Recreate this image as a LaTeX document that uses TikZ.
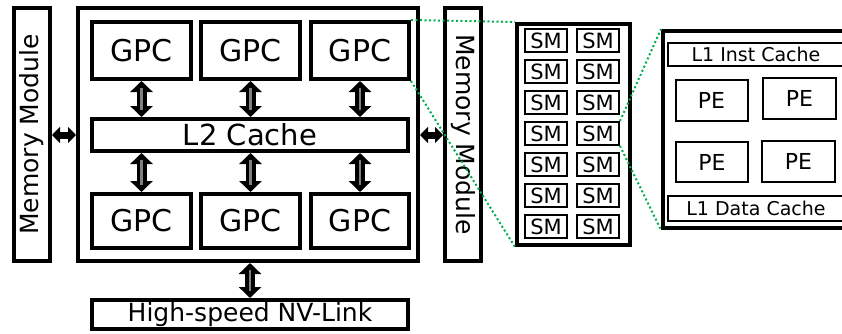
\documentclass[tikz,border=0pt]{standalone}
\usepackage{fontspec}
\setmainfont{DejaVu Sans}
\usetikzlibrary{arrows.meta}
\definecolor{zoomgreen}{RGB}{0,176,80}
\tikzset{
  heavybox/.style={draw, line width=4pt, inner sep=0pt},
  lightbox/.style={draw, line width=2pt, inner sep=0pt},
  gpcbox/.style={heavybox, minimum width=99pt, font=\fontsize{30}{32}\selectfont},
  membox/.style={heavybox, minimum width=36pt, minimum height=253pt},
  memtext/.style={font=\fontsize{25}{27}\selectfont},
  smbox/.style={lightbox, minimum width=42pt, minimum height=23pt, font=\fontsize{21}{22}\selectfont},
  pebox/.style={lightbox, minimum width=72pt, minimum height=41pt, font=\fontsize{22}{24}\selectfont},
  cachebox/.style={lightbox, minimum width=176pt, font=\fontsize{19}{20}\selectfont},
  vlink/.style={line width=10pt, {Triangle[width=22pt,length=11pt]}-{Triangle[width=22pt,length=11pt]}},
  vstripe/.style={line width=2.5pt, gray, shorten <=7pt, shorten >=7pt},
  hlink/.style={line width=7pt, {Triangle[width=16pt,length=8pt]}-{Triangle[width=16pt,length=8pt]}},
  zoomline/.style={zoomgreen, line width=2pt, dash pattern=on 2pt off 2.5pt},
}
\begin{document}
\begin{tikzpicture}[x=1pt, y=-1pt]
  \clip (0,0) rectangle (842,333);
  \fill[white] (0,0) rectangle (842,333);

  % memory modules on both sides
  \node[membox] (memL) at (32,134.5) {};
  \node[memtext, rotate=90] (memLtxt) at (memL.center) {Memory Module};
  \node[membox] (memR) at (463,134.5) {};
  \node[memtext, rotate=-90] (memRtxt) at (memR.center) {Memory Module};

  % GPU die
  \node[heavybox, minimum width=340pt, minimum height=253pt] (main) at (248,134.5) {};
  \node[gpcbox, minimum height=57pt] (g1) at (141.5,50.5) {GPC};
  \node[gpcbox, minimum height=57pt] (g2) at (250.5,50.5) {GPC};
  \node[gpcbox, minimum height=57pt, minimum width=98pt] (g3) at (360,50.5) {GPC};
  \node[heavybox, minimum width=316pt, minimum height=32pt, font=\fontsize{29}{30}\selectfont] (l2) at (250,135) {L2 Cache};
  \node[gpcbox, minimum height=54pt] (g4) at (141.5,221) {GPC};
  \node[gpcbox, minimum height=54pt] (g5) at (250.5,221) {GPC};
  \node[gpcbox, minimum height=54pt, minimum width=98pt] (g6) at (360,221) {GPC};

  % interconnect
  \node[heavybox, minimum width=316pt, minimum height=29pt, font=\fontsize{25}{27}\selectfont] (nv) at (250,314.5) {High-speed NV-Link};

  % GPC <-> L2 links
  \foreach \g in {g1,g2,g3} {
    \draw[vlink] (\g.south) -- (l2.north -| \g);
    \draw[vstripe] (\g.south) -- (l2.north -| \g);
  }
  \foreach \g in {g4,g5,g6} {
    \draw[vlink] (l2.south -| \g) -- (\g.north);
    \draw[vstripe] (l2.south -| \g) -- (\g.north);
  }
  \draw[vlink] (main.south -| nv) -- (nv.north);
  \draw[vstripe] (main.south -| nv) -- (nv.north);

  % memory links
  \draw[hlink] (memL.east |- l2) -- (main.west |- l2);
  \draw[hlink] (main.east |- l2) -- (memR.west |- l2);

  % streaming multiprocessors of one GPC
  \node[heavybox, minimum width=113pt, minimum height=221pt] (sm) at (573.5,134.5) {};
  \foreach \r in {1,...,7} {
    \pgfmathsetmacro{\ry}{40.5+31*(\r-1)}
    \node[smbox] (sm\r1) at (546,\ry) {SM};
    \node[smbox] (sm\r2) at (598,\ry) {SM};
  }

  % inside one SM
  \node[heavybox, minimum width=187pt, minimum height=197pt] (pe) at (756.5,129.5) {};
  \node[cachebox, minimum height=23pt] (l1i) at (756,54.5) {L1 Inst Cache};
  \node[pebox] (pe1) at (711.5,100.5) {PE};
  \node[pebox, minimum width=73pt] (pe2) at (799.5,98.5) {PE};
  \node[pebox, minimum height=40pt] (pe3) at (712,162) {PE};
  \node[pebox, minimum width=73pt] (pe4) at (798.5,161.5) {PE};
  \node[cachebox, minimum height=25pt] (l1d) at (756,208.5) {L1 Data Cache};

  % zoom guides
  \draw[zoomline] (g3.north east) -- (sm.north west);
  \draw[zoomline] (g3.south east) -- (sm.south west);
  \draw[zoomline] (sm42.north east) -- (pe.north west);
  \draw[zoomline] (sm42.south east) -- (pe.south west);
\end{tikzpicture}
\end{document}
